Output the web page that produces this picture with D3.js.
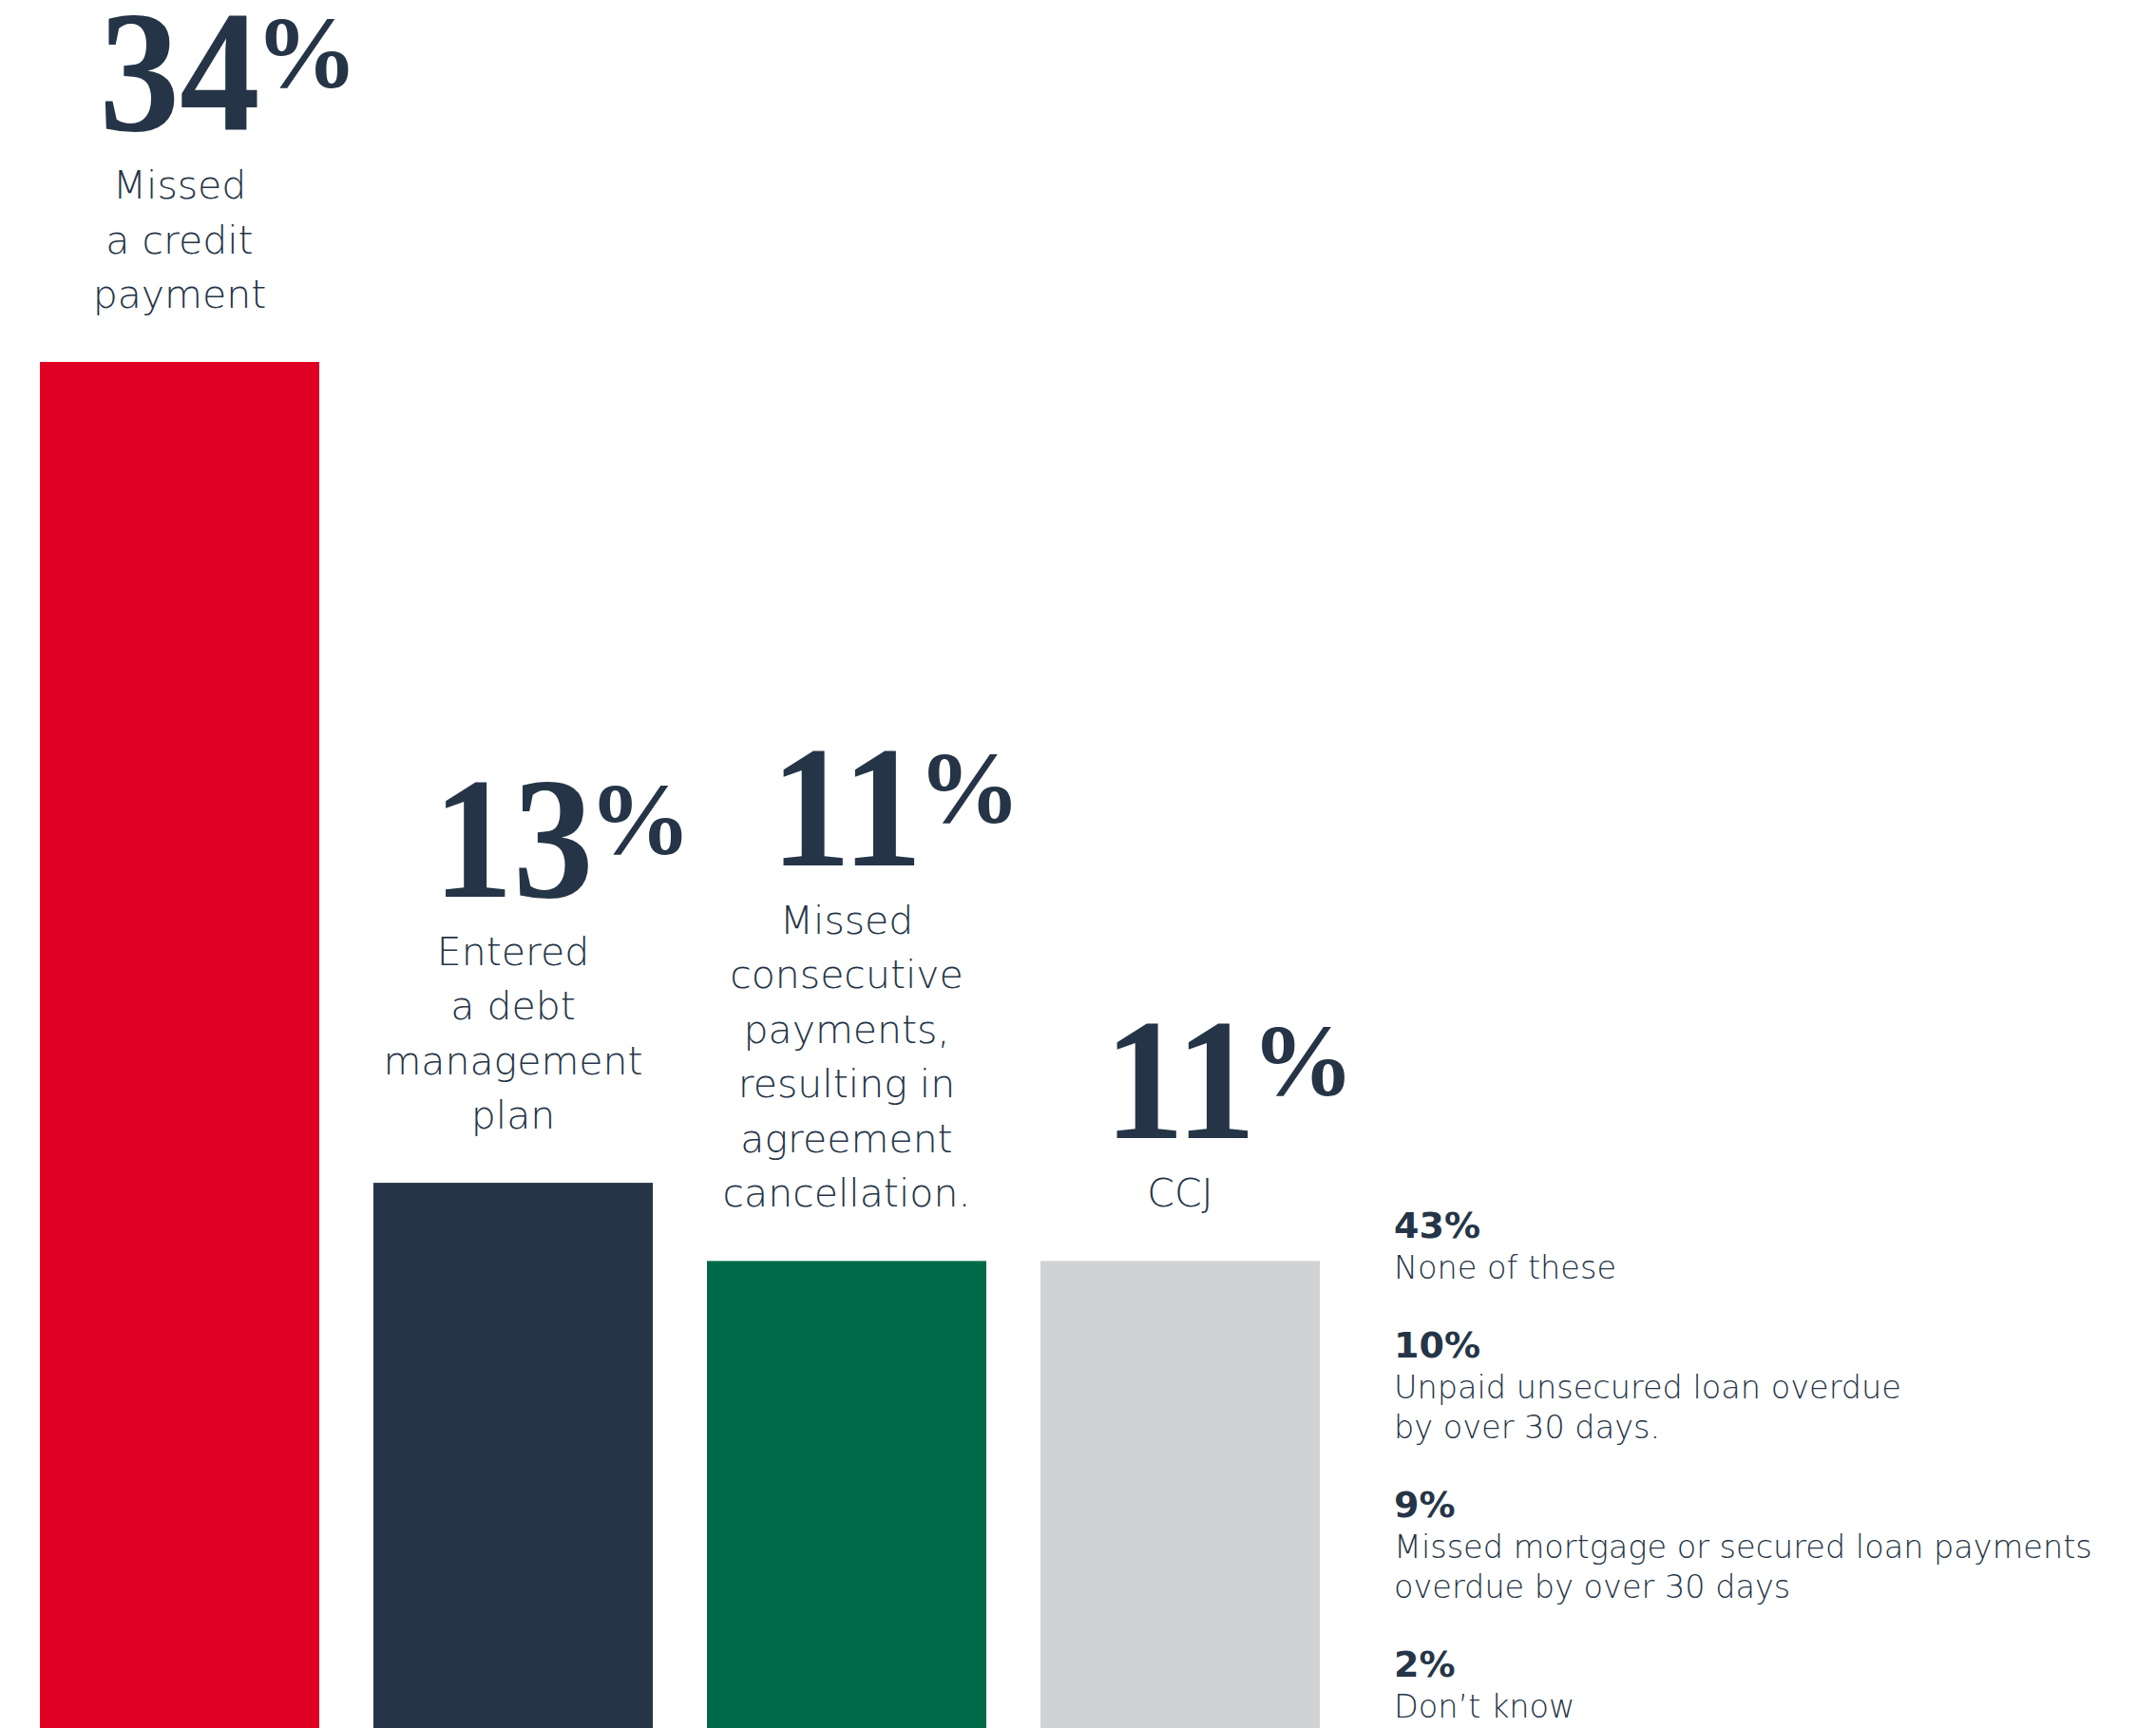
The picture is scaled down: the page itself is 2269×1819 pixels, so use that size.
<!DOCTYPE html>
<html>
<head>
<meta charset="utf-8">
<script src="https://cdn.jsdelivr.net/npm/d3@7"></script>
<style>
  html, body { margin: 0; padding: 0; background: #ffffff; }
  svg { display: block; }
</style>
</head>
<body>
<svg id="chart" width="2269" height="1819"></svg>
<script>
// Share of respondents reporting each credit event
const barCategories = ["Missed a credit payment", "Entered a debt management plan",
  "Missed consecutive payments, resulting in agreement cancellation.", "CCJ"];
const barLabelLines = [
  ["Missed", "a credit", "payment"],
  ["Entered", "a debt", "management", "plan"],
  ["Missed", "consecutive", "payments,", "resulting in", "agreement", "cancellation."],
  ["CCJ"]
];
const barValues = [34, 13, 11, 11];

// Remaining answers, listed as text
const otherValues = [43, 10, 9, 2];
const otherLabelLines = [
  ["None of these"],
  ["Unpaid unsecured loan overdue", "by over 30 days."],
  ["Missed mortgage or secured loan payments", "overdue by over 30 days"],
  ["Don’t know"]
];

const W = 2269, H = 1819;
const ink = "#253547";
const palette = ["#e00024", "#253547", "#006a48", "#d1d2d4"];
const sans = "'DejaVu Sans', 'Open Sans', sans-serif";
const serif = "'Liberation Serif', 'Times New Roman', serif";

const svg = d3.select("#chart");

const x = d3.scaleBand()
  .domain(barCategories)
  .range([42, 1389])
  .paddingInner(57 / 351)
  .paddingOuter(0);

const y = d3.scaleLinear()
  .domain([0, 34])
  .range([1780, 381]);

const color = d3.scaleOrdinal().domain(barCategories).range(palette);

const bars = barCategories.map((c, i) => ({
  cat: c, value: barValues[i], lines: barLabelLines[i]
}));

// Bars run off the bottom edge of the page
svg.append("g").selectAll("rect")
  .data(bars)
  .join("rect")
  .attr("x", d => x(d.cat))
  .attr("y", d => y(d.value))
  .attr("width", x.bandwidth())
  .attr("height", d => H - y(d.value))
  .attr("fill", d => color(d.cat));

// Label stacks above each bar: big serif figure, then the description
const lineStep = 57.5;
const labelGap = 57;
const figureGap = 72;
const sx = 0.93;

const labels = svg.append("g").selectAll("g")
  .data(bars)
  .join("g")
  .attr("transform", d => `translate(${x(d.cat) + x.bandwidth() / 2},0)`);

labels.each(function(d) {
  const g = d3.select(this);
  const lastBase = y(d.value) - labelGap;
  const firstBase = lastBase - (d.lines.length - 1) * lineStep;

  g.selectAll("text.desc")
    .data(d.lines)
    .join("text")
    .attr("class", "desc")
    .attr("x", 0)
    .attr("y", (t, j) => firstBase + j * lineStep)
    .attr("text-anchor", "middle")
    .attr("font-family", sans)
    .attr("font-weight", 200)
    .attr("font-size", 41)
    .attr("fill", ink)
    .text(t => t);

  const numBase = firstBase - figureGap;
  const num = g.append("g").attr("transform", `translate(0,${numBase}) scale(${sx},1)`);
  const numText = num.append("text")
    .attr("text-anchor", "middle")
    .attr("font-family", serif)
    .attr("font-weight", 700)
    .attr("font-size", 182)
    .attr("fill", ink)
    .text(d3.format("d")(d.value));
  const half = numText.node().getComputedTextLength() / 2 * sx;
  // Raised percent sign, top aligned with the figures
  g.append("text")
    .attr("x", half - 5)
    .attr("y", numBase - 45)
    .attr("font-family", serif)
    .attr("font-weight", 700)
    .attr("font-size", 108)
    .attr("fill", ink)
    .text("%");
});

// Text list of the other answers
const listX = 1467;
let cursor = 1303;
const list = svg.append("g");
otherValues.forEach((v, i) => {
  list.append("text")
    .attr("x", listX)
    .attr("y", cursor)
    .attr("font-family", sans)
    .attr("font-weight", 700)
    .attr("font-size", 38)
    .attr("fill", ink)
    .text(v + "%");
  let lineY = cursor + 43;
  otherLabelLines[i].forEach((t, j) => {
    if (j > 0) lineY += 42;
    list.append("text")
      .attr("x", listX)
      .attr("y", lineY)
      .attr("font-family", sans)
      .attr("font-weight", 200)
      .attr("font-size", 33.5)
      .attr("fill", ink)
      .text(t);
  });
  cursor = lineY + 83;
});
</script>
</body>
</html>
